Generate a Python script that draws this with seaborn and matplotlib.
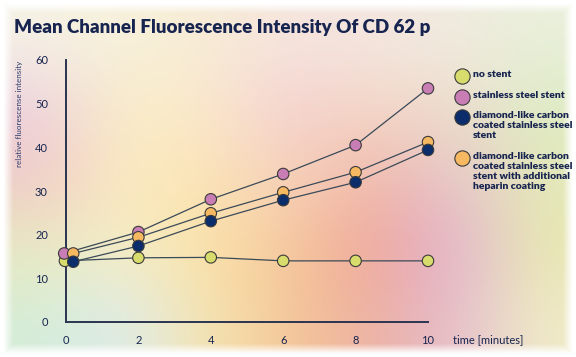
import seaborn as sns
import matplotlib.pyplot as plt
import matplotlib.colors as mcolors
from matplotlib.lines import Line2D
import numpy as np
import pandas as pd

# data
times = [0, 2, 4, 6, 8, 10]
no_stent = [14.0, 14.7, 14.8, 14.0, 14.0, 14.0]
steel = [15.7, 20.6, 28.1, 33.9, 40.5, 53.5]
dlc = [13.8, 17.4, 23.1, 27.9, 32.0, 39.4]
dlc_heparin = [15.7, 19.4, 24.9, 29.7, 34.3, 41.2]

series_names = ['no stent', 'stainless steel stent',
                'diamond-like carbon\ncoated stainless steel\nstent',
                'diamond-like carbon\ncoated stainless steel\nstent with additional\nheparin coating']
series_vals = [no_stent, steel, dlc, dlc_heparin]
colors = ['#d8dc6c', '#c97db5', '#0b2d6b', '#f6b860']
start_dodge = [-0.03, -0.05, 0.2, 0.2]   # markers at t=0 are nudged apart in the original
draw_order = [0, 1, 3, 2]                # navy dots sit on top of the orange ones

navy = '#17244f'
line_col = '#3b4a58'

rows = []
for i in draw_order:
    for t, v in zip(times, series_vals[i]):
        rows.append({'series': series_names[i],
                     'time': t + (start_dodge[i] if t == 0 else 0), 'value': v})
df = pd.DataFrame(rows)

sns.set_style('white')
plt.rcParams['font.family'] = ['Lato', 'DejaVu Sans']

fig = plt.figure(figsize=(5.76, 3.57), dpi=100)

# pastel background
bg = [['#f6f3e6', '#f7f2dc', '#f7ecd6', '#f6e6df', '#f4e6e2', '#f1ece0', '#eaf0dc'],
      ['#ecd0e0', '#faefc8', '#fbe8cc', '#f4d0d4', '#f4d8c4', '#eedcd0', '#dcecc4'],
      ['#f0c8c8', '#fbecc0', '#fbe4b4', '#f6d2bc', '#f2b8a8', '#e6c4cc', '#e4eab8'],
      ['#e8ecc0', '#f6eec8', '#fbe2a4', '#f6c89c', '#f0a494', '#e2b0d6', '#e8e8b0'],
      ['#d4ecd8', '#dcecf0', '#f6e6b0', '#f4c898', '#eeb0a0', '#e4bcd0', '#f0ecc8']]
bg_rgb = np.array([[mcolors.to_rgb(c) for c in r] for r in bg])
bax = fig.add_axes([0, 0, 1, 1], zorder=-2)
bax.imshow(bg_rgb, aspect='auto', interpolation='bicubic', extent=[0, 1, 0, 1])
yy, xx = np.mgrid[0:357, 0:576]
d = np.minimum.reduce([xx, 575 - xx, yy, 356 - yy])
fade = np.zeros((357, 576, 4))
fade[..., :3] = 1
fade[..., 3] = np.clip(1 - (d - 3) / 10, 0, 1)
bax.imshow(fade, aspect='auto', extent=[0, 1, 0, 1])
bax.set_axis_off()

ax = fig.add_axes([66 / 576, 35 / 357, 362 / 576, 262 / 357])
ax.set_facecolor('none')

sns.lineplot(data=df, x='time', y='value', units='series', estimator=None,
             color=line_col, lw=0.9, ax=ax, legend=False, sort=False)
sns.scatterplot(data=df, x='time', y='value', hue='series', hue_order=series_names,
                palette=colors, s=68, edgecolor='#3a3a3a', linewidth=0.8,
                ax=ax, legend=False, zorder=3, clip_on=False)

ax.set_xlim(0, 10)
ax.set_ylim(0, 60)
ax.set_xticks(times)
ax.set_yticks(range(0, 61, 10))
ax.set_xlabel('')
ax.set_ylabel('')
for s in ['top', 'right']:
    ax.spines[s].set_visible(False)
for s in ['left', 'bottom']:
    ax.spines[s].set_color('#2a3450')
    ax.spines[s].set_linewidth(1.4)
ax.tick_params(direction='out', length=7, width=1.4, color='#2a3450',
               labelsize=8, labelcolor=navy, pad=6)
ax.tick_params(axis='x', pad=2.5)
ax.text(1.07, -0.068, 'time [minutes]', transform=ax.transAxes,
        fontsize=8, color=navy, va='center', ha='left')

fig.text(14 / 576, 1 - 27 / 357, 'Mean Channel Fluorescence Intensity Of CD 62 p',
         fontsize=13.5, fontweight='heavy', color=navy, va='center', ha='left')
fig.text(20 / 576, 1 - 61 / 357, 'relative fluorescense intensity', rotation=90,
         fontsize=5.8, color='#2a3a6a', va='top', ha='center')

# legend drawn by hand so the marker sits on the first text line
leg_y = [76, 97, 117, 158]
for name, col, y in zip(series_names, colors, leg_y):
    fig.add_artist(Line2D([462 / 576], [1 - y / 357], marker='o', markersize=11,
                          markerfacecolor=col, markeredgecolor='#3a3a3a',
                          markeredgewidth=0.8, transform=fig.transFigure))
    fig.text(473 / 576, 1 - (y - 6) / 357, name, fontsize=7.5, fontweight='heavy',
             color=navy, va='top', ha='left', linespacing=1.15)

fig.savefig('out.png', dpi=100)
